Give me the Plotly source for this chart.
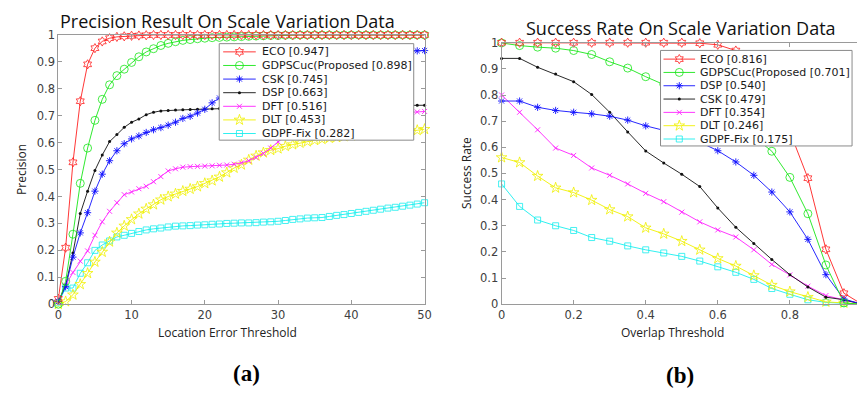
import plotly.graph_objects as go

W, H = 864, 400

# ---------------- (a) Precision data ----------------
loc_thresh = [0, 1, 2, 3, 4, 5, 6, 7, 8, 9, 10, 11, 12, 13, 14, 15, 16, 17, 18, 19, 20,
              21, 22, 23, 24, 25, 26, 27, 28, 29, 30, 31, 32, 33, 34, 35, 36, 37, 38, 39, 40,
              41, 42, 43, 44, 45, 46, 47, 48, 49, 50]

prec_eco = [0.02, 0.21, 0.527, 0.754, 0.891, 0.951, 0.976, 0.988, 0.993, 0.995, 0.997,
            0.998, 0.999, 1, 1, 1, 1, 1, 1, 1, 1, 1, 1, 1, 1, 1, 1, 1, 1, 1, 1, 1, 1, 1, 1,
            1, 1, 1, 1, 1, 1, 1, 1, 1, 1, 1, 1, 1, 1, 1, 1]
prec_gdps = [0.0, 0.085, 0.26, 0.449, 0.58, 0.683, 0.761, 0.815, 0.849, 0.873, 0.898,
             0.919, 0.937, 0.949, 0.961, 0.969, 0.975, 0.98, 0.983, 0.986, 0.988, 0.99,
             0.991, 0.992, 0.993, 0.994, 0.995, 0.996, 0.997, 0.998, 0.998, 0.999, 0.999,
             1, 1, 1, 1, 1, 1, 1, 1, 1, 1, 1, 1, 1, 1, 1, 1, 1, 1]
prec_csk = [0.01, 0.065, 0.175, 0.265, 0.34, 0.42, 0.483, 0.533, 0.57, 0.596, 0.614,
            0.625, 0.638, 0.648, 0.656, 0.665, 0.676, 0.69, 0.698, 0.71, 0.724, 0.748,
            0.766, 0.78, 0.795, 0.808, 0.82, 0.832, 0.843, 0.853, 0.862, 0.87, 0.878,
            0.885, 0.891, 0.897, 0.902, 0.907, 0.912, 0.916, 0.92, 0.924, 0.927, 0.93,
            0.933, 0.936, 0.938, 0.94, 0.941, 0.941, 0.942]
prec_dsp = [0.01, 0.07, 0.19, 0.337, 0.42, 0.497, 0.554, 0.604, 0.63, 0.657, 0.676,
            0.688, 0.704, 0.713, 0.718, 0.72, 0.721, 0.722, 0.723, 0.724, 0.725, 0.726,
            0.727, 0.728, 0.729, 0.73, 0.73, 0.731, 0.731, 0.732, 0.732, 0.733, 0.733,
            0.734, 0.734, 0.735, 0.735, 0.735, 0.736, 0.736, 0.736, 0.737, 0.737, 0.737,
            0.738, 0.738, 0.738, 0.739, 0.739, 0.739, 0.739]
prec_dft = [0.01, 0.07, 0.118, 0.16, 0.198, 0.256, 0.306, 0.345, 0.377, 0.407, 0.417,
            0.429, 0.438, 0.455, 0.474, 0.495, 0.503, 0.509, 0.511, 0.512, 0.513, 0.514,
            0.516, 0.517, 0.52, 0.525, 0.533, 0.545, 0.56, 0.58, 0.603, 0.622, 0.638,
            0.651, 0.662, 0.671, 0.678, 0.684, 0.689, 0.693, 0.697, 0.7, 0.703, 0.705,
            0.707, 0.709, 0.711, 0.712, 0.713, 0.714, 0.716]
prec_dlt = [0.0, 0.01, 0.035, 0.074, 0.115, 0.157, 0.194, 0.232, 0.265, 0.291, 0.315,
            0.336, 0.354, 0.37, 0.388, 0.4, 0.41, 0.42, 0.428, 0.437, 0.449, 0.459,
            0.473, 0.489, 0.506, 0.518, 0.536, 0.551, 0.563, 0.572, 0.578, 0.587, 0.593,
            0.599, 0.604, 0.609, 0.613, 0.617, 0.62, 0.623, 0.626, 0.629, 0.632, 0.634,
            0.636, 0.638, 0.64, 0.642, 0.643, 0.646, 0.65]
prec_fix = [0.005, 0.06, 0.06, 0.115, 0.154, 0.2, 0.22, 0.235, 0.25, 0.256, 0.263,
            0.27, 0.276, 0.28, 0.283, 0.287, 0.29, 0.291, 0.292, 0.294, 0.295, 0.297,
            0.298, 0.3, 0.301, 0.302, 0.302, 0.303, 0.305, 0.306, 0.308, 0.311, 0.315,
            0.317, 0.32, 0.321, 0.322, 0.326, 0.33, 0.333, 0.337, 0.341, 0.345, 0.349,
            0.353, 0.357, 0.36, 0.364, 0.368, 0.372, 0.377]

labels_a = ["ECO [0.947]", "GDPSCuc(Proposed [0.898]", "CSK [0.745]", "DSP [0.663]",
            "DFT [0.516]", "DLT [0.453]", "GDPF-Fix [0.282]"]

# ---------------- (b) Success data ----------------
overlap_thresh = [0, 0.05, 0.1, 0.15, 0.2, 0.25, 0.3, 0.35, 0.4, 0.45, 0.5,
                  0.55, 0.6, 0.65, 0.7, 0.75, 0.8, 0.85, 0.9, 0.95, 1.0]

succ_eco = [1, 1, 1, 1, 1, 1, 1, 1, 1, 1, 1, 0.998, 0.992, 0.97, 0.93, 0.82, 0.66,
            0.482, 0.21, 0.042, 0.0]
succ_gdps = [0.999, 0.989, 0.983, 0.979, 0.97, 0.955, 0.927, 0.903, 0.87, 0.841, 0.81,
             0.77, 0.73, 0.69, 0.64, 0.585, 0.485, 0.346, 0.15, 0.005, 0.0]
succ_dsp = [0.777, 0.777, 0.753, 0.741, 0.734, 0.728, 0.719, 0.704, 0.682, 0.665, 0.645,
            0.62, 0.587, 0.544, 0.493, 0.429, 0.353, 0.248, 0.113, 0.02, 0.0]
succ_csk = [0.94, 0.94, 0.906, 0.88, 0.851, 0.802, 0.734, 0.659, 0.586, 0.54, 0.497,
            0.45, 0.368, 0.294, 0.232, 0.171, 0.113, 0.066, 0.027, 0.017, 0.0]
succ_dft = [0.8, 0.734, 0.667, 0.597, 0.569, 0.521, 0.493, 0.46, 0.424, 0.392, 0.352,
            0.315, 0.284, 0.257, 0.208, 0.152, 0.112, 0.069, 0.033, 0.015, 0.0]
succ_dlt = [0.561, 0.542, 0.49, 0.445, 0.427, 0.398, 0.362, 0.335, 0.292, 0.269, 0.241,
            0.208, 0.175, 0.146, 0.11, 0.073, 0.048, 0.027, 0.009, 0.005, 0.0]
succ_fix = [0.46, 0.374, 0.322, 0.3, 0.282, 0.255, 0.241, 0.223, 0.208, 0.196, 0.183,
            0.165, 0.143, 0.122, 0.095, 0.06, 0.038, 0.017, 0.007, 0.003, 0.0]

labels_b = ["ECO [0.816]", "GDPSCuc(Proposed [0.701]", "DSP [0.540]", "CSK [0.479]",
            "DFT [0.354]", "DLT [0.246]", "GDPF-Fix [0.175]"]

# ---------------- styles ----------------
RED = dict(color="#ff2020", symbol="hexagram-open", size=7, lw=0.8)
GREEN = dict(color="#18e618", symbol="circle-open", size=8, lw=0.8)
BLUE = dict(color="#1010ff", symbol="asterisk-open", size=6, lw=0.9)
BLACK = dict(color="#111111", symbol="circle", size=3, lw=0)
MAG = dict(color="#ff20ff", symbol="x-thin-open", size=5, lw=0.9)
YEL = dict(color="#f0f000", symbol="star-open", size=8, lw=0.8)
CYAN = dict(color="#18eeee", symbol="square-open", size=6, lw=0.8)

series_a = [(prec_eco, RED), (prec_gdps, GREEN), (prec_csk, BLUE), (prec_dsp, BLACK),
            (prec_dft, MAG), (prec_dlt, YEL), (prec_fix, CYAN)]
series_b = [(succ_eco, RED), (succ_gdps, GREEN), (succ_dsp, BLUE), (succ_csk, BLACK),
            (succ_dft, MAG), (succ_dlt, YEL), (succ_fix, CYAN)]


def mk_marker(st):
    return dict(symbol=st["symbol"], size=st["size"], color=st["color"],
                line=dict(color=st["color"], width=st["lw"]))


fig = go.Figure()

for (vals, st), name in reversed(list(zip(series_a, labels_a))):
    fig.add_trace(go.Scatter(x=loc_thresh, y=vals, mode="lines+markers", name=name,
                             line=dict(color=st["color"], width=0.9), marker=mk_marker(st),
                             cliponaxis=False, xaxis="x", yaxis="y"))
for (vals, st), name in reversed(list(zip(series_b, labels_b))):
    fig.add_trace(go.Scatter(x=overlap_thresh, y=vals, mode="lines+markers", name=name,
                             line=dict(color=st["color"], width=0.9), marker=mk_marker(st),
                             cliponaxis=False, xaxis="x2", yaxis="y2"))


# ---------------- manual legends (pixel overlay axes) ----------------
def add_legend(box, row0, dy, lx0, lx1, tx, labels, styles):
    x0, y0, x1, y1 = box
    fig.add_trace(go.Scatter(x=[x0, x1, x1, x0, x0], y=[y0, y0, y1, y1, y0], mode="lines",
                             fill="toself", fillcolor="white",
                             line=dict(color="#8a8a8a", width=1), hoverinfo="skip",
                             xaxis="x3", yaxis="y3"))
    for i, (lab, st) in enumerate(zip(labels, styles)):
        yc = row0 + i * dy
        fig.add_trace(go.Scatter(x=[lx0, lx1], y=[yc, yc], mode="lines",
                                 line=dict(color=st["color"], width=0.9), hoverinfo="skip",
                                 xaxis="x3", yaxis="y3"))
        fig.add_trace(go.Scatter(x=[(lx0 + lx1) / 2], y=[yc], mode="markers",
                                 marker=mk_marker(st), hoverinfo="skip",
                                 xaxis="x3", yaxis="y3"))
        fig.add_annotation(x=tx / W, y=1 - yc / H, xref="paper", yref="paper",
                           text=lab, showarrow=False, xanchor="left", yanchor="middle",
                           font=dict(family="DejaVu Sans", size=11, color="#1a1a1a"))


add_legend((218, 38, 415, 138), 46.5, 14.1, 222, 255, 259, labels_a,
           [s for _, s in series_a])
add_legend((665, 45, 859, 144), 54, 13.8, 668, 700, 703, labels_b,
           [s for _, s in series_b])

axis_common = dict(showline=True, linecolor="#9a9a9a", linewidth=1, ticks="inside",
                   ticklen=4, tickcolor="#9a9a9a", showgrid=False, zeroline=False,
                   tickfont=dict(family="DejaVu Sans", size=11.5, color="#404040"))

fig.update_layout(
    width=W, height=H, margin=dict(l=0, r=0, t=0, b=0, pad=0),
    paper_bgcolor="white", plot_bgcolor="rgba(0,0,0,0)", showlegend=False,
    xaxis=dict(domain=[55 / W, 426 / W], range=[0, 50], dtick=10, mirror="ticks",
               anchor="y", **axis_common),
    yaxis=dict(domain=[1 - 308 / H, 1 - 29 / H], range=[0, 1], dtick=0.1, mirror="ticks",
               anchor="x", **axis_common),
    xaxis2=dict(domain=[504 / W, 1], range=[0, 360 / 365], tickvals=[0, 0.2, 0.4, 0.6, 0.8],
                mirror="ticks", anchor="y2", **axis_common),
    yaxis2=dict(domain=[1 - 308 / H, 1 - 37 / H], range=[0, 1], dtick=0.1, mirror=False,
                anchor="x2", **axis_common),
    xaxis3=dict(domain=[0, 1], range=[0, W], visible=False, anchor="y3", fixedrange=True),
    yaxis3=dict(domain=[0, 1], range=[H, 0], visible=False, anchor="x3", fixedrange=True),
)


def ann(text, px, py, size, family="Open Sans", color="#111111", angle=0):
    fig.add_annotation(x=px / W, y=1 - py / H, xref="paper", yref="paper", text=text,
                       showarrow=False, xanchor="center", yanchor="middle", textangle=angle,
                       font=dict(family=family, size=size, color=color))


ann("Precision Result On Scale Variation Data", 226.5, 14, 18)
ann("Success Rate On Scale Variation Data", 685.5, 22, 18)
ann("Location Error Threshold", 226, 337, 12, color="#222222")
ann("Overlap Threshold", 677, 337, 12, color="#222222")
ann("Precision", 17, 168, 12, color="#222222", angle=-90)
ann("Success Rate", 469, 172, 12, color="#222222", angle=-90)
ann("<b>(a)</b>", 246, 380, 23, family="Liberation Serif", color="#000000")
ann("<b>(b)</b>", 684.5, 382, 23, family="Liberation Serif", color="#000000")

fig.write_html("out.html", config={"displayModeBar": False},
               post_script="document.body.style.margin='0';"
                           "document.body.style.overflow='hidden';")
